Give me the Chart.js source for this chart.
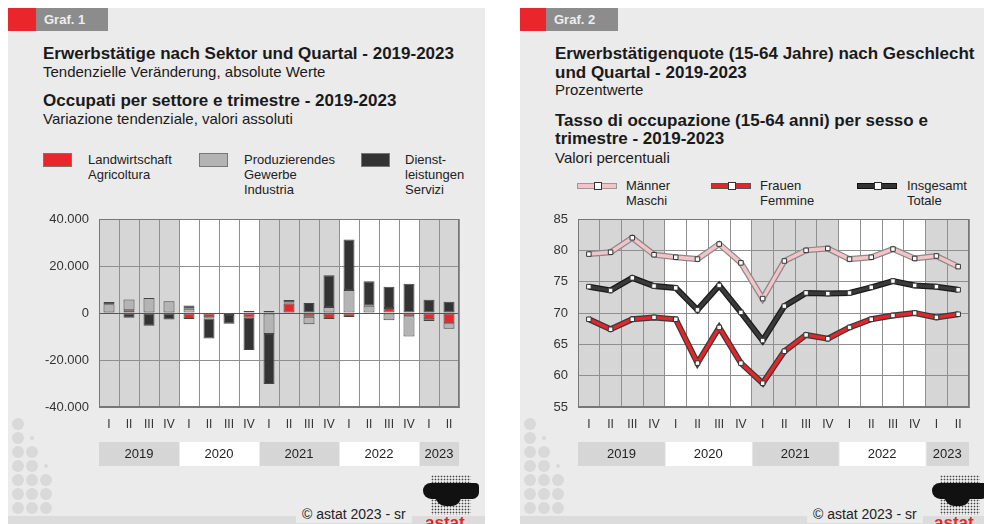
<!DOCTYPE html>
<html>
<head>
<meta charset="utf-8">
<script src="https://cdn.jsdelivr.net/npm/chart.js@4.4.1/dist/chart.umd.min.js"></script>
<style>
  body { margin: 0; width: 984px; height: 524px; background: #fff; position: relative; overflow: hidden;
         font-family: "Liberation Sans", Arial, sans-serif; color: #1a1a1a; }
  .panel { position: absolute; top: 8px; height: 516px; background: #ebebeb; }
  .t { position: absolute; white-space: nowrap; }
  .h1 { font-size: 17px; font-weight: bold; line-height: 19px; }
  .h2 { font-size: 15px; line-height: 17px; }
  .lg { font-size: 13px; line-height: 15px; color: #222; }
  .tag { position: absolute; top: 8px; height: 23px; }
  .tagtxt { color: #eee; font-weight: bold; font-size: 13px; line-height: 23px; padding-left: 8px; }
  .sw { position: absolute; width: 29px; height: 14px; box-sizing: border-box; border: 1px solid #777; }
  .lsw { position: absolute; width: 40px; height: 6px; box-sizing: border-box; }
  .lsw i { position: absolute; left: 16px; top: -2px; width: 6px; height: 6px; background: #fff; border: 1px solid #333; }
  .strip { position: absolute; top: 516px; height: 8px; background: #dcdcdc; }
  .copy { position: absolute; top: 505px; font-size: 14px; line-height: 18px; background: #ebebeb; padding: 0 6px; color: #222; }
  .dot { position: absolute; width: 12px; height: 12px; border-radius: 50%; background: #d9d9d9; }
  .logo { position: absolute; top: 474px; width: 58px; height: 50px; overflow: hidden; }
  .logo .dots { position: absolute; left: 10px; top: 1px; width: 40px; height: 40px;
                background-image: radial-gradient(#444 40%, transparent 50%); background-size: 3px 3px; }
  .logo .blob { position: absolute; left: 2px; top: 9px; width: 56px; height: 16px; background: #111; border-radius: 8px 4px 7px 9px; }
  .logo .blob2 { position: absolute; left: 14px; top: 18px; width: 26px; height: 14px; background: #111; border-radius: 2px 2px 9px 11px; }
  .logo .name { position: absolute; left: 4px; top: 40px; color: #e3262b; font-weight: bold; font-size: 17px; line-height: 17px; }
  canvas { position: absolute; }
</style>
</head>
<body>

<div class="panel" style="left:8px;width:477px"></div>
<div class="panel" style="left:520px;width:464px"></div>

<div class="tag" style="left:8px;width:28px;background:#e8262c"></div>
<div class="tag tagtxt" style="left:36px;width:64px;background:#8c8c8c">Graf. 1</div>
<div class="tag" style="left:520px;width:26px;background:#e8262c"></div>
<div class="tag tagtxt" style="left:546px;width:64px;background:#8c8c8c">Graf. 2</div>

<!-- Graf. 1 titles -->
<div class="t h1" style="left:43px;top:44px">Erwerbstätige nach Sektor und Quartal - 2019-2023</div>
<div class="t h2" style="left:43px;top:63px">Tendenzielle Veränderung, absolute Werte</div>
<div class="t h1" style="left:43px;top:91px">Occupati per settore e trimestre - 2019-2023</div>
<div class="t h2" style="left:43px;top:110px">Variazione tendenziale, valori assoluti</div>

<div class="sw" style="left:43px;top:153px;background:#e8262c"></div>
<div class="t lg" style="left:88px;top:152px">Landwirtschaft<br>Agricoltura</div>
<div class="sw" style="left:199px;top:153px;background:#b4b4b4"></div>
<div class="t lg" style="left:244px;top:152px">Produzierendes<br>Gewerbe<br>Industria</div>
<div class="sw" style="left:361px;top:153px;background:#333"></div>
<div class="t lg" style="left:405px;top:152px">Dienst-<br>leistungen<br>Servizi</div>

<!-- Graf. 2 titles -->
<div class="t h1" style="left:555px;top:44px">Erwerbstätigenquote (15-64 Jahre) nach Geschlecht</div>
<div class="t h1" style="left:555px;top:63px">und Quartal - 2019-2023</div>
<div class="t h2" style="left:555px;top:81px">Prozentwerte</div>
<div class="t h1" style="left:555px;top:111px">Tasso di occupazione (15-64 anni) per sesso e</div>
<div class="t h1" style="left:555px;top:129px">trimestre - 2019-2023</div>
<div class="t h2" style="left:555px;top:149px">Valori percentuali</div>

<div class="lsw" style="left:577px;top:183px;background:#f4c3c9;border:1px solid #999"><i></i></div>
<div class="t lg" style="left:626px;top:178px">Männer<br>Maschi</div>
<div class="lsw" style="left:711px;top:183px;background:#e3262b;border:1px solid #555"><i></i></div>
<div class="t lg" style="left:760px;top:178px">Frauen<br>Femmine</div>
<div class="lsw" style="left:857px;top:183px;background:#333;border:1px solid #111"><i></i></div>
<div class="t lg" style="left:907px;top:178px">Insgesamt<br>Totale</div>

<canvas id="c1" width="477" height="275" style="left:8px;top:200px"></canvas>
<canvas id="c2" width="464" height="275" style="left:520px;top:200px"></canvas>

<div class="strip" style="left:8px;width:477px"></div>
<div class="strip" style="left:520px;width:464px"></div>
<div class="copy" style="left:296px">© astat 2023 - sr</div>
<div class="copy" style="left:807px">© astat 2023 - sr</div>

<div class="logo" style="left:421px"><div class="dots"></div><div class="blob"></div><div class="blob2"></div><div class="name">astat</div></div>
<div class="logo" style="left:930px"><div class="dots"></div><div class="blob"></div><div class="blob2"></div><div class="name">astat</div></div>

<div id="deco"></div>

<script>
// quarters 2019 I .. 2023 II
const quarters = ['I','II','III','IV','I','II','III','IV','I','II','III','IV','I','II','III','IV','I','II'];
const years = ['2019','2020','2021','2022','2023'];
const quartersPerYear = [4, 4, 4, 4, 2];

// Graf. 1 - tendential change, absolute values
const landwirtschaft = [-300, 1200, 0, 0, -2500, -1800, -300, -2000, 800, 4000, -1600, -2500, -1700, -300, 2100, -1400, -2700, -4400];
const gewerbe        = [3700, 4500, 6400, 5000, 1800, -500, -500, 800, -8900, 500, -3200, 2600, 9800, 3100, -3100, -8600, -700, -2300];
const dienste        = [1000, -2000, -5400, -2800, 1400, -8500, -3800, -13700, -21300, 1000, 4300, 13500, 21500, 10400, 9100, 12500, 5600, 4800];

// Graf. 2 - employment rate (%)
const maenner   = [79.4, 79.7, 82.0, 79.3, 78.9, 78.6, 81.0, 78.0, 72.3, 78.3, 80.0, 80.3, 78.6, 78.9, 80.2, 78.7, 79.1, 77.4];
const frauen    = [69.0, 67.4, 69.0, 69.3, 69.0, 62.0, 67.7, 62.0, 58.8, 63.9, 66.5, 65.9, 67.7, 69.0, 69.6, 70.0, 69.3, 69.8];
const insgesamt = [74.2, 73.6, 75.6, 74.3, 74.0, 70.5, 74.4, 70.1, 65.6, 71.1, 73.2, 73.1, 73.2, 74.1, 75.1, 74.4, 74.2, 73.7];

const FONT = '"Liberation Sans", Arial, sans-serif';
const GRID = '#8f8f8f';
const SHADE = '#d6d6d6';

// decorative dots bottom-left of each panel
const dotRows = [[1,0,0],[1,0.4,0],[1,1,0],[1,1,0.4],[1,1,1],[1,1,1],[1,1,1]];
let html = '';
[0, 512].forEach(off => {
  dotRows.forEach((row, r) => row.forEach((v, c) => {
    if (!v) return;
    const s = v < 1 ? 4 : 12;
    const cx = 18 + c * 14 + off, cy = 424 + r * 14;
    html += `<div class="dot" style="left:${cx - s/2}px;top:${cy - s/2}px;width:${s}px;height:${s}px"></div>`;
  }));
});
document.getElementById('deco').innerHTML = html;

const fmt = v => (v < 0 ? '-' : '') + String(Math.abs(v)).replace(/\B(?=(\d{3})+(?!\d))/g, '.');

// shaded year columns behind the plot and year boxes under the axis
const yearBands = {
  id: 'yearBands',
  beforeDraw(chart) {
    const { ctx, chartArea: a } = chart;
    const w = (a.right - a.left) / quarters.length;
    ctx.save();
    let q = 0;
    quartersPerYear.forEach((n, i) => {
      ctx.fillStyle = i % 2 === 0 ? SHADE : '#ffffff';
      ctx.fillRect(a.left + q * w, a.top, n * w, a.bottom - a.top);
      q += n;
    });
    ctx.restore();
  },
  afterDraw(chart) {
    const { ctx, chartArea: a } = chart;
    const w = (a.right - a.left) / quarters.length;
    ctx.save();
    let q = 0;
    quartersPerYear.forEach((n, i) => {
      const x0 = a.left + q * w, x1 = x0 + n * w;
      ctx.fillStyle = i % 2 === 0 ? SHADE : '#ffffff';
      ctx.fillRect(x0 + (i ? 1 : 0), a.bottom + 35, n * w - (i ? 1 : 0), 24);
      ctx.fillStyle = '#222';
      ctx.font = '13px ' + FONT;
      ctx.textAlign = 'center';
      ctx.textBaseline = 'middle';
      ctx.fillText(years[i], (x0 + x1) / 2, a.bottom + 47);
      q += n;
    });
    ctx.strokeStyle = '#777';
    ctx.lineWidth = 1;
    ctx.strokeRect(a.left + 0.5, a.top + 0.5, a.right - a.left - 1, a.bottom - a.top - 1);
    ctx.restore();
  }
};

const zeroLine = {
  id: 'zeroLine',
  afterDatasetsDraw(chart) {
    const { ctx, chartArea: a, scales: { y } } = chart;
    const py = Math.round(y.getPixelForValue(0)) + 0.5;
    ctx.save();
    ctx.strokeStyle = '#555';
    ctx.lineWidth = 1;
    ctx.beginPath();
    ctx.moveTo(a.left, py);
    ctx.lineTo(a.right, py);
    ctx.stroke();
    ctx.restore();
  }
};

const xAxis = {
  offset: true,
  grid: { offset: true, color: GRID, drawTicks: false },
  border: { color: '#777' },
  ticks: { color: '#333', padding: 10, font: { family: FONT, size: 12 }, maxRotation: 0, autoSkip: false },
  afterFit(s) { s.height = 68; }
};

Chart.defaults.font.family = FONT;

new Chart(document.getElementById('c1'), {
  type: 'bar',
  data: {
    labels: quarters,
    datasets: [
      { label: 'Landwirtschaft', data: landwirtschaft, backgroundColor: '#e8262c' },
      { label: 'Produzierendes Gewerbe', data: gewerbe, backgroundColor: '#b4b4b4' },
      { label: 'Dienstleistungen', data: dienste, backgroundColor: '#333333' }
    ].map(d => Object.assign(d, { borderColor: '#444', borderWidth: 1, borderSkipped: false,
                                  barPercentage: 0.55, categoryPercentage: 1 }))
  },
  options: {
    responsive: false,
    animation: false,
    devicePixelRatio: 1,
    layout: { padding: { top: 19, right: 26, left: 0, bottom: 0 } },
    plugins: { legend: { display: false }, tooltip: { enabled: false } },
    scales: {
      x: Object.assign({ stacked: true }, xAxis),
      y: {
        stacked: true,
        min: -40000, max: 40000,
        grid: { color: GRID, drawTicks: false },
        border: { color: '#777' },
        ticks: { stepSize: 20000, color: '#333', padding: 10, font: { family: FONT, size: 13 }, callback: v => fmt(v) },
        afterFit(s) { s.width = 91; }
      }
    }
  },
  plugins: [yearBands, zeroLine]
});

const lineSeries = [
  { label: 'Männer', data: maenner, inner: '#f4c3c9', outer: '#8a8a8a' },
  { label: 'Frauen', data: frauen, inner: '#e3262b', outer: '#3a3a3a' },
  { label: 'Insgesamt', data: insgesamt, inner: '#3a3a3a', outer: '#1a1a1a' }
];
const lineSets = [];
lineSeries.forEach(s => {
  lineSets.push({ label: s.label + ' outline', data: s.data, borderColor: s.outer, borderWidth: 6,
                  pointRadius: 0, tension: 0, order: 2 });
  lineSets.push({ label: s.label, data: s.data, borderColor: s.inner, borderWidth: 3.5, tension: 0, order: 1,
                  pointStyle: 'rect', pointRadius: 3.2, pointBackgroundColor: '#fff',
                  pointBorderColor: '#333', pointBorderWidth: 1 });
});

new Chart(document.getElementById('c2'), {
  type: 'line',
  data: { labels: quarters, datasets: lineSets },
  options: {
    responsive: false,
    animation: false,
    devicePixelRatio: 1,
    layout: { padding: { top: 19, right: 15, left: 0, bottom: 0 } },
    plugins: { legend: { display: false }, tooltip: { enabled: false } },
    scales: {
      x: xAxis,
      y: {
        min: 55, max: 85,
        grid: { color: GRID, drawTicks: false },
        border: { color: '#777' },
        ticks: { stepSize: 5, color: '#333', padding: 10, font: { family: FONT, size: 13 } },
        afterFit(s) { s.width = 58; }
      }
    }
  },
  plugins: [yearBands]
});
</script>
</body>
</html>
